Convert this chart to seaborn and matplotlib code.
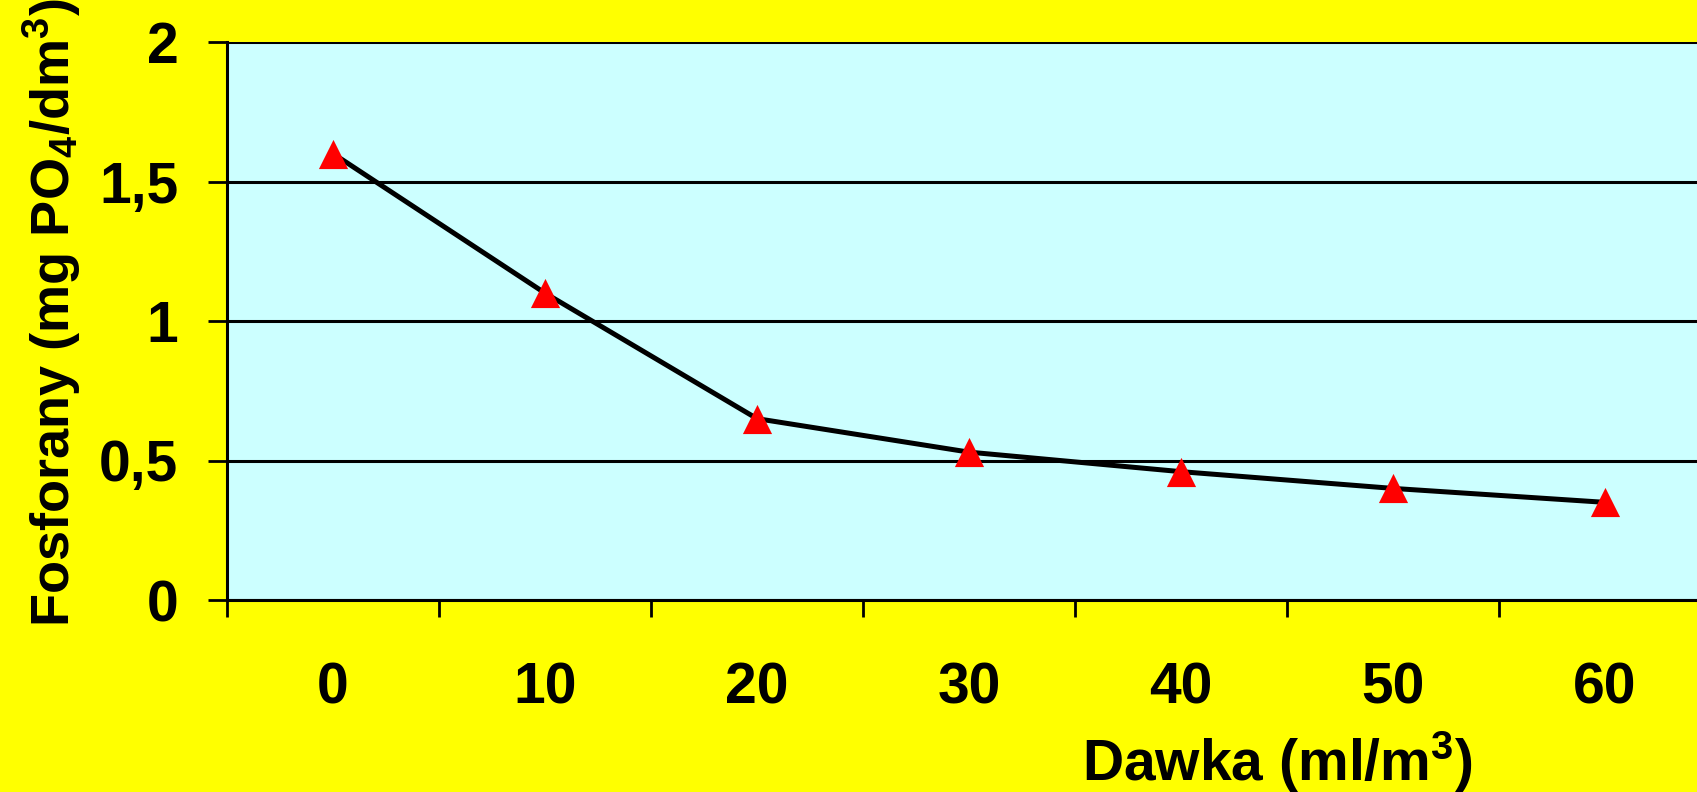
import numpy as np
import pandas as pd
import matplotlib
matplotlib.use("Agg")
import matplotlib.pyplot as plt
import seaborn as sns

# Data
doses = ["0", "10", "20", "30", "40", "50", "60"]
phosphates = [1.60, 1.10, 0.65, 0.53, 0.46, 0.40, 0.35]
y_ticks = [0, 0.5, 1, 1.5, 2]
y_tick_labels = ["0", "0,5", "1", "1,5", "2"]

df = pd.DataFrame({"dose": doses, "phos": phosphates})

sns.set_theme(style="white")
plt.rcParams["font.family"] = ["Liberation Sans", "DejaVu Sans"]
plt.rcParams["font.weight"] = "bold"
plt.rcParams["text.color"] = "black"
plt.rcParams["axes.labelcolor"] = "black"
plt.rcParams["xtick.color"] = "black"
plt.rcParams["ytick.color"] = "black"
plt.rcParams["mathtext.fontset"] = "custom"
plt.rcParams["mathtext.rm"] = "Liberation Sans:bold"
plt.rcParams["mathtext.it"] = "Liberation Sans:bold"
plt.rcParams["mathtext.bf"] = "Liberation Sans:bold"
plt.rcParams["mathtext.default"] = "rm"

W, H = 1697, 792
fig = plt.figure(figsize=(W / 100, H / 100), dpi=100, facecolor="#FFFF00")
left, right, top, bottom = 227, 1711, 42, 600
ax = fig.add_axes([left / W, (H - bottom) / H, (right - left) / W, (bottom - top) / H])
ax.set_facecolor("#CCFFFF")

sns.lineplot(data=df, x="dose", y="phos", ax=ax, color="black", linewidth=3.6, sort=False, zorder=3)
sns.scatterplot(data=df, x="dose", y="phos", ax=ax, marker="^", color="red", s=21**2,
                edgecolor="red", linewidth=0, zorder=4)

ax.set_ylim(0, 2)
ax.set_xlim(-0.5, len(doses) - 0.5)

# Grid lines
for yv in y_ticks:
    ax.axhline(yv, color="black", linewidth=2.2, zorder=2)

# Y ticks
ax.set_yticks(y_ticks)
ax.set_yticklabels(y_tick_labels)
ax.tick_params(axis="y", which="major", direction="out", length=14, width=2, color="black",
               pad=21, labelsize=41, left=True, labelcolor="black")

# X ticks: major at category boundaries (no labels), minor at centers (labels)
ax.set_xticks(np.arange(-0.5, len(doses) - 0.5, 1.0))
ax.set_xticklabels([])
ax.set_xticks(np.arange(len(doses)), minor=True)
ax.set_xticklabels(doses, minor=True)
ax.tick_params(axis="x", which="major", direction="out", length=12, width=2, color="black", bottom=True)
ax.tick_params(axis="x", which="minor", length=0, pad=44, labelsize=41, labelcolor="black")
for lab in ax.get_xticklabels(minor=True) + ax.get_yticklabels():
    lab.set_fontweight("bold")

for s in ["top", "right"]:
    ax.spines[s].set_visible(False)
ax.spines["left"].set_color("black")
ax.spines["left"].set_linewidth(2.2)
ax.spines["bottom"].set_color("black")
ax.spines["bottom"].set_linewidth(2.2)

ax.set_ylabel(r"Fosforany (mg PO$_4$/dm$^3$)", fontsize=39, fontweight="bold", color="black")
ax.yaxis.set_label_coords(-0.097, 0.515)
ax.set_xlabel(r"Dawka (ml/m$^3$)", fontsize=41, fontweight="bold", color="black")
ax.xaxis.set_label_coords(0.7075, -0.231)

fig.savefig("out.png", dpi=100, facecolor=fig.get_facecolor())
